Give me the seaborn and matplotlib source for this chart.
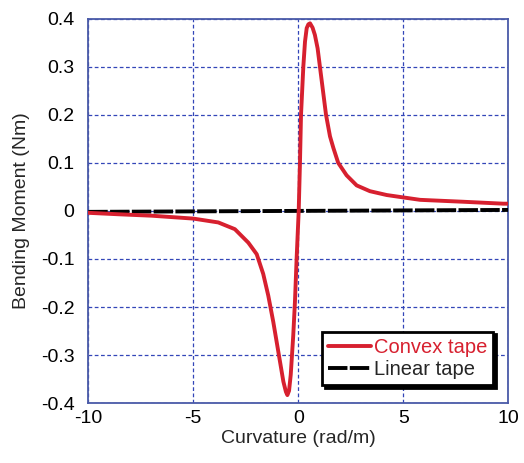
import numpy as np
import pandas as pd
import matplotlib
matplotlib.use("Agg")
import matplotlib.pyplot as plt
import seaborn as sns

# Convex tape data
convex_x = [-10, -8.57, -6.98, -5.0, -3.81, -3.02, -2.38, -1.98, -1.67, -1.43,
            -1.19, -0.95, -0.71, -0.59, -0.52, -0.44, -0.36, -0.24, -0.16, -0.08,
            0.02, 0.08, 0.13, 0.24, 0.32, 0.40, 0.48, 0.56, 0.68, 0.79, 0.92,
            1.03, 1.32, 1.51, 1.67, 1.90, 2.30, 2.78, 3.41, 4.21, 5.0, 5.8, 6.3,
            7.86, 9.76, 10]
convex_y = [-0.004, -0.007, -0.010, -0.016, -0.024, -0.038, -0.066, -0.09, -0.131,
            -0.176, -0.231, -0.293, -0.355, -0.376, -0.383, -0.374, -0.341, -0.259,
            -0.19, -0.10, 0.0, 0.1, 0.2, 0.3, 0.352, 0.38, 0.388, 0.39, 0.381,
            0.366, 0.338, 0.30, 0.2, 0.155, 0.131, 0.1, 0.074, 0.053, 0.041, 0.033,
            0.028, 0.023, 0.022, 0.019, 0.015, 0.015]

# Linear tape data
linear_x = [-10, -5, 0, 5, 10]
linear_y = [-0.002, -0.001, 0.0, 0.001, 0.002]

x_ticks = [-10, -5, 0, 5, 10]
y_ticks = [-0.4, -0.3, -0.2, -0.1, 0, 0.1, 0.2, 0.3, 0.4]
y_tick_labels = ["-0.4", "-0.3", "-0.2", "-0.1", "0", "0.1", "0.2", "0.3", "0.4"]

sns.set_style("white")
plt.rcParams['font.family'] = ['Liberation Sans', 'DejaVu Sans']

fig = plt.figure(figsize=(5.24, 4.63), dpi=100)
ax = fig.add_axes([0.1685, 0.129, 0.8015, 0.831])

red = "#d7202f"
grid_col = "#3346b8"
fs = 14

df_c = pd.DataFrame({"x": convex_x, "y": convex_y})
df_l = pd.DataFrame({"x": linear_x, "y": linear_y})

sns.lineplot(data=df_l, x="x", y="y", ax=ax, color="black", lw=2.8,
             linestyle=(0, (5, 0.6)), label="Linear tape", zorder=3)
sns.lineplot(data=df_c, x="x", y="y", ax=ax, color=red, lw=2.8,
             label="Convex tape", zorder=4, solid_joinstyle="round",
             solid_capstyle="round")

ax.set_xlim(-10, 10)
ax.set_ylim(-0.4, 0.4)
ax.set_xticks(x_ticks)
ax.set_xticklabels([str(t) for t in x_ticks])
ax.set_yticks(y_ticks)
ax.set_yticklabels(y_tick_labels)
ax.tick_params(axis="both", length=0, labelsize=fs, colors="black")
ax.tick_params(axis="y", pad=10)
ax.tick_params(axis="x", pad=5)
ax.grid(True, color=grid_col, linestyle=(0, (3, 2)), linewidth=0.9)
for s in ax.spines.values():
    s.set_color("#4a5aa8")
    s.set_linewidth(1.3)
ax.set_xlabel("Curvature (rad/m)", fontsize=fs, labelpad=2)
ax.set_ylabel("Bending Moment (Nm)", fontsize=fs, labelpad=8)

handles, labels = ax.get_legend_handles_labels()
order = [labels.index("Convex tape"), labels.index("Linear tape")]
leg = ax.legend([handles[i] for i in order], [labels[i] for i in order],
                loc="lower right", bbox_to_anchor=(0.964, 0.048),
                fontsize=14.5, frameon=True, fancybox=False,
                shadow={"color": "black", "alpha": 1.0},
                edgecolor="black", framealpha=1, handlelength=2.1,
                handletextpad=0.15, borderpad=0.3, labelspacing=0.15,
                borderaxespad=0)
leg.get_frame().set_linewidth(2.0)
for t in leg.get_texts():
    if t.get_text() == "Convex tape":
        t.set_color(red)

fig.savefig("out.png", dpi=100)
